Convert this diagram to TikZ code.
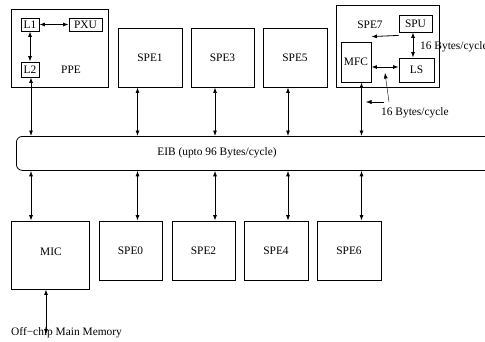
\documentclass[tikz,border=0pt]{standalone}
\usepackage{fontspec}
\setmainfont{Liberation Serif}
\usetikzlibrary{arrows.meta}
\begin{document}
\begin{tikzpicture}[x=1pt,y=-1pt,
  font=\fontsize{11.4}{13}\selectfont,
  box/.style={draw,line width=0.8pt,inner sep=0pt,minimum width=#1},
  unit/.style={box=64pt,minimum height=59pt},
  txt/.style={inner sep=0pt},
  tip/.style={-{Latex[length=5.5pt,width=4pt]}},
  dbl/.style={{Latex[length=5.5pt,width=4pt]}-{Latex[length=5.5pt,width=4pt]}},
  wire/.style={line width=0.8pt}]
\useasboundingbox (0,0) rectangle (485,341);

% ---- PPE ----
\node[box=97pt,minimum height=78pt] (ppe) at (59.5,48) {};
\node[box=18pt,minimum height=13pt] (l1) at (30,24.5) {L1};
\node[box=33pt,minimum height=13pt] (pxu) at (85.5,24.5) {PXU};
\node[box=18pt,minimum height=15pt] (l2) at (30,69.5) {L2};
\node[txt] (ppelbl) at (71,70) {PPE};
\draw[wire,dbl] (l1) -- (pxu);
\draw[wire,dbl] (l1) -- (l2);

% ---- upper SPEs ----
\node[unit] (spe1) at (150,57.5) {SPE1};
\node[unit,minimum width=63pt] (spe3) at (222.5,57.5) {SPE3};
\node[unit] (spe5) at (295,57.5) {SPE5};

% ---- SPE7 detail ----
\node[box=103pt,minimum height=82pt] (spe7) at (387.5,46) {};
\node[txt] (spe7lbl) at (370,25) {SPE7};
\node[box=33pt,minimum height=17pt] (spu) at (415.5,23.5) {SPU};
\node[box=35pt,minimum height=24pt] (ls) at (416.5,70) {LS};
\node[box=30pt,minimum height=40pt] (mfc) at (356,62) {MFC};
\draw[wire,tip] ([yshift=-3pt]spu.south west) -- ([yshift=5pt]mfc.north east);
\draw[wire,dbl] ([xshift=-2.5pt]spu.south) coordinate (sl) -- (sl |- ls.north);
\draw[wire,dbl] ([yshift=-5pt]mfc.east) coordinate (ml) -- (ml -| ls.west);
\node[txt,anchor=west] (bwa) at (420,47) {16 Bytes/cycle};
\node[txt,anchor=west] (bwb) at (381,113) {16 Bytes/cycle};
\coordinate (pa) at (389,102);
\coordinate (pb) at (384,102);
\coordinate (pc) at (366,102);
\draw[tip] (pa) -- (385,73);
\draw[tip] (pb) -- (pc);

% ---- EIB ----
\node[draw,line width=0.8pt,rounded corners=6pt,minimum width=500pt,minimum height=34pt,
      anchor=north west] (eib) at (16,136) {};
\node[txt] (eiblbl) at (217,153) {EIB (upto 96 Bytes/cycle)};

% bus taps
\coordinate (b1) at (31,153);
\coordinate (b2) at (137.5,153);
\coordinate (b3) at (215,153);
\coordinate (b4) at (288,153);
\coordinate (b5) at (361.5,153);

% ---- lower units ----
\node[box=78pt,minimum height=68pt] (mic) at (50,255) {};
\node[txt] (miclbl) at (51,252) {MIC};
\node[box=63pt,minimum height=59pt] (spe0) at (130.5,250.5) {SPE0};
\node[box=63pt,minimum height=59pt] (spe2) at (203.5,250.5) {SPE2};
\node[unit] (spe4) at (276,250.5) {SPE4};
\node[unit] (spe6) at (349,250.5) {SPE6};
\node[txt,anchor=west] (mem) at (11,333) {Off−chip Main Memory};

% ---- links to the bus ----
\draw[wire,dbl] (b1 |- l2.south) -- (b1 |- eib.north);
\draw[wire,dbl] (b2 |- spe1.south) -- (b2 |- eib.north);
\draw[wire,dbl] (b3 |- spe3.south) -- (b3 |- eib.north);
\draw[wire,dbl] (b4 |- spe5.south) -- (b4 |- eib.north);
\draw[wire,dbl] (b5 |- mfc.south) -- (b5 |- eib.north);

\draw[wire,dbl] (b1 |- eib.south) -- (b1 |- mic.north);
\draw[wire,dbl] (b2 |- eib.south) -- (b2 |- spe0.north);
\draw[wire,dbl] (b3 |- eib.south) -- (b3 |- spe2.north);
\draw[wire,dbl] (b4 |- eib.south) -- (b4 |- spe4.north);
\draw[wire,dbl] (b5 |- eib.south) -- (b5 |- spe6.north);

\draw[wire,dbl] ([xshift=-4pt]mic.south) coordinate (mm) -- ([yshift=-7pt]mm |- mem.north);
\end{tikzpicture}
\end{document}
